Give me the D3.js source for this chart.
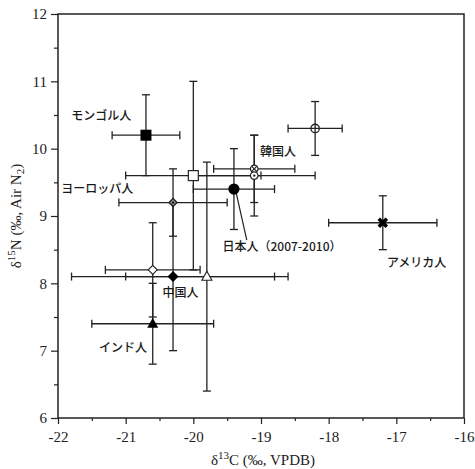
<!DOCTYPE html>
<html>
<head>
<meta charset="utf-8">
<script src="https://cdn.jsdelivr.net/npm/d3@7"></script>
<style>
  body { margin: 0; background: #fff; }
</style>
</head>
<body>
<div id="chart"></div>
<script>
// values (mean ± SD)
var seriesNames = ["モンゴル人", "日本人A", "日本人 (2007-2010)", "韓国人A", "韓国人B", "韓国人C",
                   "ヨーロッパ人", "中国人", "日本人B", "日本人C", "インド人", "アメリカ人"];
var carbon    = [-20.7, -20.0, -19.4, -19.1, -19.1, -18.2, -20.3, -20.3, -20.6, -19.8, -20.6, -17.2];
var carbonSD  = [  0.5,   1.0,   0.6,   0.6,   0.9,   0.4,   0.8,   1.5,   0.7,   1.2,   0.9,   0.8];
var nitrogen  = [ 10.2,   9.6,   9.4,   9.7,   9.6,  10.3,   9.2,   8.1,   8.2,   8.1,   7.4,   8.9];
var nitrogenSD= [  0.6,   1.4,   0.6,   0.5,   0.6,   0.4,   0.5,   1.1,   0.7,   1.7,   0.6,   0.4];
var markers   = ["squareFilled", "squareOpen", "circleFilled", "circleCross", "circleDot", "circleOpen",
                 "diamondDot", "diamondFilled", "diamondOpen", "triangleOpen", "triangleFilled", "xBold"];

var xTicks = [-22, -21, -20, -19, -18, -17, -16];
var yTicks = [6, 7, 8, 9, 10, 11, 12];

var labelNames = ["モンゴル人", "ヨーロッパ人", "韓国人", "日本人（2007-2010）", "中国人", "インド人", "アメリカ人"];

(function() {
  "use strict";

  var W = 475, H = 469;
  var margin = { top: 14, right: 11, bottom: 51, left: 58 };

  var x = d3.scaleLinear().domain([-22, -16]).range([margin.left, W - margin.right]);
  var y = d3.scaleLinear().domain([6, 12]).range([H - margin.bottom, margin.top]);

  var ink = "#222";

  var svg = d3.select("#chart").append("svg")
      .attr("width", W)
      .attr("height", H)
      .style("background", "#fff");

  // axes (major + minor ticks)
  var xMinor = d3.range(-21.5, -16, 1);
  var yMinor = d3.range(6.5, 12, 1);

  var styleAxis = function(g) {
    g.select(".domain").remove();
    g.selectAll("line").attr("stroke", ink).attr("stroke-width", 1.2);
    g.selectAll("text")
      .attr("fill", ink)
      .attr("font-family", "'Liberation Serif', 'DejaVu Serif', serif")
      .attr("font-size", 15);
  };

  svg.append("g")
    .attr("transform", `translate(0, ${y(6)})`)
    .call(d3.axisBottom(x).tickValues(xTicks).tickSize(6).tickSizeOuter(0).tickPadding(7)
      .tickFormat(d => String(d)))
    .call(styleAxis);
  svg.append("g")
    .attr("transform", `translate(0, ${y(6)})`)
    .call(d3.axisBottom(x).tickValues(xMinor).tickSize(3).tickSizeOuter(0).tickFormat(""))
    .call(styleAxis);

  svg.append("g")
    .attr("transform", `translate(${x(-22)}, 0)`)
    .call(d3.axisLeft(y).tickValues(yTicks).tickSize(7).tickSizeOuter(0).tickPadding(4)
      .tickFormat(d => String(d)))
    .call(styleAxis);
  svg.append("g")
    .attr("transform", `translate(${x(-22)}, 0)`)
    .call(d3.axisLeft(y).tickValues(yMinor).tickSize(4).tickSizeOuter(0).tickFormat(""))
    .call(styleAxis);

  // frame
  svg.append("rect")
    .attr("x", x(-22))
    .attr("y", y(12))
    .attr("width", x(-16) - x(-22))
    .attr("height", y(6) - y(12))
    .attr("fill", "none")
    .attr("stroke", ink)
    .attr("stroke-width", 1.5);

  // axis titles
  var serif = "'Liberation Serif', 'DejaVu Serif', serif";
  var xt = svg.append("text")
    .attr("x", (x(-22) + x(-16)) / 2 + 2)
    .attr("y", 465)
    .attr("text-anchor", "middle")
    .attr("font-family", serif)
    .attr("font-size", 15)
    .attr("fill", ink);
  xt.append("tspan").text("δ");
  xt.append("tspan").attr("dy", -6).attr("font-size", 11).text("13");
  xt.append("tspan").attr("dy", 6).text("C (‰, VPDB)");

  var yt = svg.append("text")
    .attr("transform", `translate(21, ${(y(6) + y(12)) / 2}) rotate(-90)`)
    .attr("text-anchor", "middle")
    .attr("font-family", serif)
    .attr("font-size", 15)
    .attr("fill", ink);
  yt.append("tspan").text("δ");
  yt.append("tspan").attr("dy", -6).attr("font-size", 11).text("15");
  yt.append("tspan").attr("dy", 6).text("N (‰, Air N");
  yt.append("tspan").attr("dy", 3).attr("font-size", 11).text("2");
  yt.append("tspan").attr("dy", -3).text(")");

  // data rows
  var rows = seriesNames.map((name, i) => ({
    name: name, cx: carbon[i], cxe: carbonSD[i], ny: nitrogen[i], nye: nitrogenSD[i], mk: markers[i]
  }));

  // error bars
  var cap = 4;
  var bars = svg.append("g").attr("stroke", ink).attr("stroke-width", 1.3).attr("fill", "none");
  rows.forEach(function(d) {
    var px = x(d.cx), py = y(d.ny);
    var x0 = x(d.cx - d.cxe), x1 = x(d.cx + d.cxe);
    var y0 = y(d.ny - d.nye), y1 = y(d.ny + d.nye);
    bars.append("line").attr("x1", x0).attr("x2", x1).attr("y1", py).attr("y2", py);
    bars.append("line").attr("x1", x0).attr("x2", x0).attr("y1", py - cap).attr("y2", py + cap);
    bars.append("line").attr("x1", x1).attr("x2", x1).attr("y1", py - cap).attr("y2", py + cap);
    bars.append("line").attr("x1", px).attr("x2", px).attr("y1", y0).attr("y2", y1);
    bars.append("line").attr("x1", px - cap).attr("x2", px + cap).attr("y1", y0).attr("y2", y0);
    bars.append("line").attr("x1", px - cap).attr("x2", px + cap).attr("y1", y1).attr("y2", y1);
  });

  // leader line for 日本人 (2007-2010)
  svg.append("line")
    .attr("x1", x(-19.37)).attr("y1", y(9.36))
    .attr("x2", x(-19.21)).attr("y2", y(8.64))
    .attr("stroke", ink).attr("stroke-width", 1.2);

  // markers
  var diamond = (w, h) => `M0,${-h / 2}L${w / 2},0L0,${h / 2}L${-w / 2},0Z`;
  var tri = (w, h) => `M0,${-h * 0.6}L${w / 2},${h * 0.4}L${-w / 2},${h * 0.4}Z`;

  var mg = svg.append("g");
  rows.forEach(function(d) {
    var g = mg.append("g").attr("transform", `translate(${x(d.cx)}, ${y(d.ny)})`);
    switch (d.mk) {
      case "squareFilled":
        g.append("rect").attr("x", -5.5).attr("y", -5.5).attr("width", 11).attr("height", 11).attr("fill", "#000");
        break;
      case "squareOpen":
        g.append("rect").attr("x", -5).attr("y", -5).attr("width", 10).attr("height", 10)
          .attr("fill", "#fff").attr("stroke", ink).attr("stroke-width", 1.2);
        break;
      case "circleFilled":
        g.append("circle").attr("r", 5.6).attr("fill", "#000");
        break;
      case "circleCross":
        g.append("circle").attr("r", 3.8).attr("fill", "#fff").attr("stroke", ink).attr("stroke-width", 1.2);
        g.append("path").attr("d", "M-2.5,-2.5L2.5,2.5M-2.5,2.5L2.5,-2.5").attr("stroke", ink).attr("stroke-width", 1.2);
        break;
      case "circleDot":
        g.append("circle").attr("r", 3.8).attr("fill", "#fff").attr("stroke", ink).attr("stroke-width", 1.2);
        g.append("circle").attr("r", 1.2).attr("fill", ink);
        break;
      case "circleOpen":
        g.append("circle").attr("r", 4.2).attr("fill", "none").attr("stroke", ink).attr("stroke-width", 1.3);
        break;
      case "diamondDot":
        g.append("path").attr("d", diamond(8, 8)).attr("fill", "#888").attr("stroke", ink).attr("stroke-width", 1.3);
        g.append("circle").attr("r", 1.1).attr("fill", "#111");
        break;
      case "diamondFilled":
        g.append("path").attr("d", diamond(11, 11)).attr("fill", "#000");
        break;
      case "diamondOpen":
        g.append("path").attr("d", diamond(9, 9)).attr("fill", "#fff").attr("stroke", ink).attr("stroke-width", 1.1);
        break;
      case "triangleOpen":
        g.append("path").attr("d", tri(10, 9)).attr("fill", "#fff").attr("stroke", ink).attr("stroke-width", 1.1);
        break;
      case "triangleFilled":
        g.append("path").attr("d", tri(11, 10)).attr("fill", "#000");
        break;
      case "xBold":
        g.append("path").attr("d", "M-4,-4L4,4M-4,4L4,-4").attr("stroke", "#000").attr("stroke-width", 3.6);
        break;
    }
  });

  // group labels (data coordinates)
  var labelAt = [[-21.36, 10.49], [-21.42, 9.40], [-18.75, 9.96], [-18.69, 8.55],
                 [-20.19, 7.86], [-21.04, 7.05], [-16.70, 8.31]];
  svg.append("g").selectAll("text")
    .data(labelNames)
    .enter()
    .append("text")
    .attr("x", (d, i) => x(labelAt[i][0]))
    .attr("y", (d, i) => y(labelAt[i][1]))
    .attr("dy", "0.35em")
    .attr("text-anchor", "middle")
    .attr("font-family", "'Noto Sans CJK JP', 'Noto Sans', sans-serif")
    .attr("font-size", 12)
    .attr("font-weight", 500)
    .attr("fill", "#1a1a1a")
    .text(d => d);
})();
</script>
</body>
</html>
